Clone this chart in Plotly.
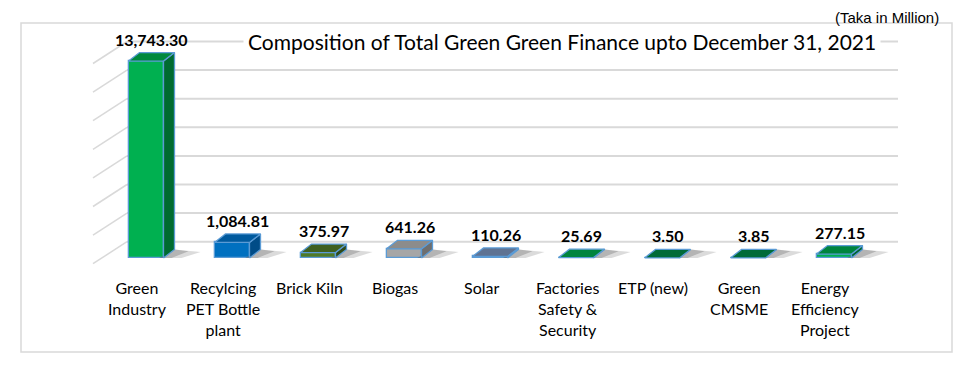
import plotly.graph_objects as go

# ---------------- data ----------------
categories = ["Green<br>Industry", "Recylcing<br>PET Bottle<br>plant", "Brick Kiln", "Biogas", "Solar",
              "Factories<br>Safety &<br>Security", "ETP (new)", "Green<br>CMSME", "Energy<br>Efficiency<br>Project"]
values = [13743.30, 1084.81, 375.97, 641.26, 110.26, 25.69, 3.50, 3.85, 277.15]
front_colors = ['#00B050', '#0070C0', '#4F7A28', '#A6A6A6', '#5B6F8F', '#00A04A', '#00703C', '#00703C', '#00B050']
top_colors = ['#00893D', '#005A9E', '#3F6020', '#8C8C8C', '#5F7393', '#00843E', '#006B38', '#006B38', '#00843E']
side_colors = ['#006B30', '#004C87', '#2F4A18', '#6E6E6E', '#44556E', '#00652F', '#005029', '#005029', '#00652F']
grid_values = [0, 2000, 4000, 6000, 8000, 10000, 12000, 14000]
title_text = "Composition of Total Green Green Finance upto December 31, 2021"
unit_text = "(Taka in Million)"

# ---------------- geometry helpers ----------------
OFF = 8  # page body margin
S = 0.01433          # px per value unit
STEP = 86.0          # px per category
X0PX, Y0PX = 146.0 - OFF, 258.0 - OFF
L, R, T, B = 93 - OFF, 898 - OFF, 30 - OFF, 265 - OFF
W, H = 968, 372

def vx(px):
    return (px - OFF - X0PX) / STEP

def pxp(px):
    return (px - OFF - L) / (R - L)

def pyp(py):
    return (B - (py - OFF)) / (B - T)

half = 35.0 / STEP / 2
dxu = 11.0 / STEP
dyu = 8.5 / S
BACK0 = 241.7
GSP = 28.6

fig = go.Figure()

# shadows
for i, v in enumerate(values):
    x1 = i + half
    fig.add_trace(go.Scatter(
        x=[x1 - 0.05, x1 + dxu, x1 + dxu + 26 / STEP, x1 + 18 / STEP, x1 - 0.05],
        y=[0, dyu, dyu * 0.7, 0, 0], fill='toself', mode='lines',
        line=dict(width=0), fillcolor='rgba(110,110,110,0.25)', hoverinfo='skip'))
    fig.add_trace(go.Scatter(
        x=[x1 - 0.05, x1 + dxu, x1 + dxu + 14 / STEP, x1 + 8 / STEP, x1 - 0.05],
        y=[0, dyu, dyu * 0.8, 0, 0], fill='toself', mode='lines',
        line=dict(width=0), fillcolor='rgba(90,90,90,0.3)', hoverinfo='skip'))

# front faces
fig.add_trace(go.Bar(x=list(range(len(values))), y=values, width=2 * half,
                     marker=dict(color=front_colors, line=dict(color='#5B9BD5', width=1.3)),
                     hoverinfo='skip'))

# top and side faces
for i, v in enumerate(values):
    x0, x1 = i - half, i + half
    fig.add_trace(go.Scatter(
        x=[x1, x1, x1 + dxu, x1 + dxu, x1], y=[0, v, v + dyu, dyu, 0],
        fill='toself', mode='lines', fillcolor=side_colors[i],
        line=dict(color='#5B9BD5', width=1.3), hoverinfo='skip'))
    fig.add_trace(go.Scatter(
        x=[x0, x1, x1 + dxu, x0 + dxu, x0], y=[v, v, v + dyu, v + dyu, v],
        fill='toself', mode='lines', fillcolor=top_colors[i],
        line=dict(color='#5B9BD5', width=1.3), hoverinfo='skip'))

shapes = []
shapes.append(dict(type='rect', xref='paper', yref='paper', x0=pxp(21), x1=pxp(952), y0=pyp(352), y1=pyp(23),
                   line=dict(color='#D9D9D9', width=1.5), layer='below'))
for g in grid_values:
    yg = BACK0 - GSP * (g / 2000)
    shapes.append(dict(type='line', xref='paper', yref='paper', x0=pxp(127), x1=pxp(898), y0=pyp(yg), y1=pyp(yg),
                       line=dict(color='#D9D9D9', width=2), layer='below'))
    shapes.append(dict(type='line', xref='paper', yref='paper', x0=pxp(93), x1=pxp(127), y0=pyp(yg + 22), y1=pyp(yg),
                       line=dict(color='#D9D9D9', width=1.5), layer='below'))

annotations = []
for i, v in enumerate(values):
    annotations.append(dict(x=i + dxu / 2, y=v + dyu, xref='x', yref='y', text=f"<b>{v:,.2f}</b>",
                            showarrow=False, yanchor='bottom', yshift=2,
                            font=dict(family='Lato', size=16, color='#000000')))
    annotations.append(dict(x=i, y=pyp(276), xref='x', yref='paper', text=categories[i], xshift=-9,
                            showarrow=False, yanchor='top', align='center',
                            font=dict(family='Lato', size=16, color='#000000')))
annotations.append(dict(x=vx(561.5), y=pyp(42), xref='x', yref='paper', text=title_text, showarrow=False,
                        yanchor='middle', bgcolor='white', borderpad=4,
                        font=dict(family='Lato', size=21, color='#000000')))
annotations.append(dict(x=pxp(940), y=pyp(17.5), xref='paper', yref='paper', text=unit_text, showarrow=False,
                        xanchor='right', yanchor='middle', borderpad=0,
                        font=dict(family='Liberation Sans', size=15, color='#000000')))

fig.update_layout(
    width=W, height=H, margin=dict(l=L, r=W - R, t=T, b=H - B),
    paper_bgcolor='white', plot_bgcolor='white', showlegend=False,
    xaxis=dict(range=[(L - X0PX) / STEP, (R - X0PX) / STEP], visible=False, fixedrange=True),
    yaxis=dict(range=[(Y0PX - B) / S, (Y0PX - T) / S], visible=False, fixedrange=True),
    shapes=shapes, annotations=annotations, bargap=0,
)

fig.write_html("out.html")
